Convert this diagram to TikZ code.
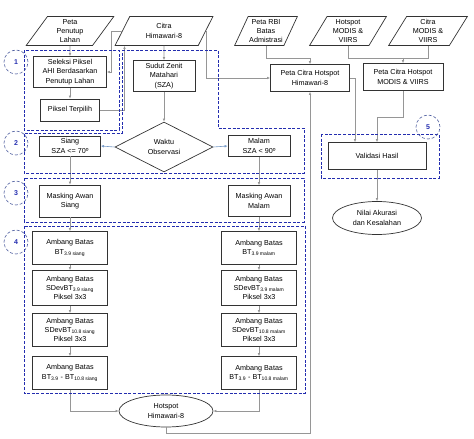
\documentclass[tikz,border=0pt]{standalone}
\usepackage{fontspec}
\setmainfont{Liberation Sans}
\usetikzlibrary{shapes.geometric,arrows.meta,positioning}

\definecolor{regblue}{RGB}{35,45,175}
\definecolor{ringblue}{RGB}{80,95,160}
\definecolor{linegray}{RGB}{150,150,150}
\definecolor{waktublue}{RGB}{120,155,200}

\newcommand{\lowtxt}[1]{\textsubscript{#1}}

\tikzset{
	txt/.style={font=\fontsize{7.2}{9.4}\selectfont, align=center, inner sep=1pt},
	proc/.style={txt, draw=black!80, line width=0.7pt, fill=white},
	datain/.style={txt, trapezium, trapezium left angle=62, trapezium right angle=118,
		trapezium stretches=true, draw=black!80, line width=0.7pt, minimum height=29pt,
		inner ysep=0pt, inner xsep=0pt},
	term/.style={txt, ellipse, draw=black!80, line width=0.7pt, inner sep=0pt},
	decide/.style={txt, diamond, draw=black!80, line width=0.7pt, inner sep=0pt},
	conn/.style={draw=linegray, line width=0.6pt, -{Latex[length=3pt,width=2.6pt]}},
	region/.style={draw=regblue, line width=1pt, dash pattern=on 3pt off 1.6pt},
	ring/.style={circle, draw=ringblue, line width=0.6pt, dash pattern=on 3pt off 2pt,
		minimum size=24pt, inner sep=0pt, text=regblue, font=\fontsize{7}{7}\selectfont\bfseries}
}

\begin{document}
\begin{tikzpicture}[x=1pt,y=-1pt]
	\useasboundingbox (0,0) rectangle (474,439);
	
	% Input data
	\node[datain, minimum width=88pt] (ppl) at (70,31) {Peta\\Penutup\\Lahan};
	\node[datain, minimum width=98pt] (citra) at (164,31) {Citra\\Himawari-8};
	\node[datain, minimum width=63pt] (rbi) at (266,31) {Peta RBI\\Batas\\Admistrasi};
	\node[datain, minimum width=77pt] (hmod) at (348,31) {Hotspot\\MODIS \&\\VIIRS};
	\node[datain, minimum width=79pt] (cmod) at (428,31) {Citra\\MODIS \&\\VIIRS};
	
	% Step 1 and SZA
	\node[proc, minimum width=73pt, minimum height=31pt] (seleksi) at (70,72) {Seleksi Piksel\\AHI Berdasarkan\\Penutup Lahan};
	\node[proc, minimum width=59pt, minimum height=22pt] (piksel) at (70,110) {Piksel Terpilih};
	\node[proc, minimum width=62pt, minimum height=31pt] (sza) at (164,76) {Sudut Zenit\\Matahari\\(SZA)};
	
	% Step 2 and 3
	\node[decide, minimum width=98pt, minimum height=50pt] (waktu) at (164,147) {Waktu\\Observasi};
	\node[proc, minimum width=61pt, minimum height=20pt] (siang) at (70,146) {Siang\\SZA <= 70º};
	\node[proc, minimum width=62pt, minimum height=21pt] (malam) at (259,146) {Malam\\SZA < 90º};
	\node[proc, minimum width=61pt, minimum height=32pt] (mas) at (70,201) {Masking Awan\\Siang};
	\node[proc, minimum width=62pt, minimum height=31pt] (mam) at (259,201) {Masking Awan\\Malam};
	
	% Step 4, one column for day and one for night
	\foreach \side/\x/\wkt in {s/70/siang, m/259/malam} {
		\node[proc, minimum width=75pt, minimum height=33pt] (a1\side) at (\x,248) {Ambang Batas\\BT\lowtxt{3.9 \wkt}};
		\node[proc, minimum width=75pt, minimum height=35pt] (a2\side) at (\x,288) {Ambang Batas\\SDevBT\lowtxt{3.9 \wkt}\\Piksel 3x3};
		\node[proc, minimum width=75pt, minimum height=33pt] (a3\side) at (\x,330) {Ambang Batas\\SDevBT\lowtxt{10.8 \wkt}\\Piksel 3x3};
		\node[proc, minimum width=75pt, minimum height=33pt] (a4\side) at (\x,373) {Ambang Batas\\BT\lowtxt{3.9} - BT\lowtxt{10.8 \wkt}};
		\draw[conn] (a1\side) -- (a2\side);
		\draw[conn] (a2\side) -- (a3\side);
		\draw[conn] (a3\side) -- (a4\side);
	}
	\node[term, minimum width=94pt, minimum height=32pt] (hot) at (166,411) {Hotspot\\Himawari-8};
	
	% Step 5
	\node[proc, minimum width=79pt, minimum height=27pt] (phima) at (310,78) {Peta Citra Hotspot\\Himawari-8};
	\node[proc, minimum width=80pt, minimum height=27pt] (pmod) at (403,77) {Peta Citra Hotspot\\MODIS \& VIIRS};
	\node[proc, minimum width=98pt, minimum height=27pt] (val) at (377,156) {Validasi Hasil};
	\node[term, minimum width=89pt, minimum height=33pt] (nilai) at (377,218) {Nilai Akurasi\\dan Kesalahan};
	
	% Connectors
	\draw[conn] (ppl.south) -- (seleksi.north);
	\draw[conn] (citra.west) -- ++(-11,0) |- (seleksi.east);
	\coordinate (citrain) at ([xshift=10pt]citra.bottom left corner);
	\draw[conn] (piksel.east) -| (citrain);
	\draw[conn] (seleksi) -- (piksel);
	\draw[conn] (citra.south) -- (sza.north);
	\draw[conn] (citra.east) |- (phima.west);
	\draw[conn] (sza) -- (waktu);
	\draw[conn, draw=waktublue] (waktu.west) -- (siang.east);
	\draw[conn, draw=waktublue] (waktu.east) -- (malam.west);
	\draw[conn] (siang) -- (mas);
	\draw[conn] (malam) -- (mam);
	\draw[conn] (mas) -- (a1s);
	\draw[conn] (mam) -- (a1m);
	\draw[conn] (a4s.south) |- (hot.west);
	\draw[conn] (a4m.south) |- (hot.east);
	\draw[conn] (hot.south) -- ++(0,6) -| (phima.south);
	\draw[conn] (rbi.south) -- ++(0,12) -| (phima.north);
	\draw[draw=linegray, line width=0.6pt] (hmod.south) -- ++(0,12) -| (cmod.south);
	\coordinate (modjoin) at ([yshift=-12pt]hmod.south);
	\draw[conn] (pmod.north |- modjoin) -- (pmod.north);
	\draw[conn] (phima.east) -| ([xshift=-22pt]val.north);
	\draw[conn] (pmod.south) -- ++(0,26) -| (val.north);
	\draw[conn] (val) -- (nilai);
	
	% Dashed step regions
	\draw[region] (24,50) rectangle (119,130);
	\draw[region] (122,50) -- (218,50) -- (218,128) -- (304,128) -- (304,173)
		-- (24,173) -- (24,133) -- (122,133) -- cycle;
	\draw[region] (24,178) rectangle (304,222);
	\draw[region] (24,226) rectangle (305,393);
	\draw[region] (321,134) rectangle (439,178);
	
	% Step numbers
	\foreach \y [count=\n] in {62,143,193,242} {
		\node[ring] (step\n) at (16,\y) {\n};
	}
	\node[ring] (step5) at (428,127) {5};
\end{tikzpicture}
\end{document}
